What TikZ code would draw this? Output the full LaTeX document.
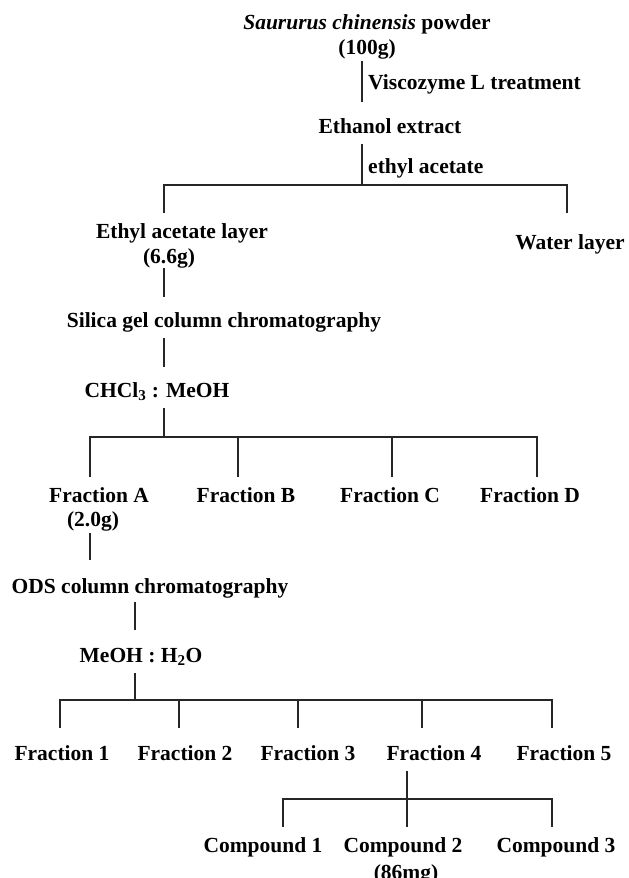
\documentclass[tikz,border=0pt]{standalone}
\usepackage{fontspec}
\setmainfont{Liberation Serif}
\begin{document}
\begin{tikzpicture}[x=1pt,y=-1pt,
  txt/.style={inner sep=0pt, anchor=base, font=\bfseries\fontsize{21.5}{24}\selectfont},
  ltxt/.style={txt, anchor=base west},
  conn/.style={line width=1.2pt, draw=black!85}]
\clip (0,0) rectangle (629,878);
\fill[white] (0,0) rectangle (629,878);
% texts
\node[txt] (pow) at (367,29) {\textit{Saururus chinensis} powder};
\node[txt] (pow2) at (367,54) {(100g)};
\node[ltxt] (visc) at (368,89) {Viscozyme L treatment};
\node[txt] (eth) at (390,133) {Ethanol extract};
\node[ltxt] (ea) at (368,173) {ethyl acetate};
\node[txt] (eal) at (182,238) {Ethyl acetate layer};
\node[txt] (eal2) at (169,263) {(6.6g)};
\node[txt] (wat) at (570,249) {Water layer};
\node[txt] (sil) at (224,327) {Silica gel column chromatography};
\node[txt] (chc) at (157,397) {CHCl\textsubscript{3} : MeOH};
\node[txt] (fA) at (99,502) {Fraction A};
\node[txt] (fA2) at (93,526) {(2.0g)};
\node[txt] (fB) at (246,502) {Fraction B};
\node[txt] (fC) at (390,502) {Fraction C};
\node[txt] (fD) at (530,502) {Fraction D};
\node[txt] (ods) at (150,593) {ODS column chromatography};
\node[txt] (meo) at (141,662) {MeOH : H\textsubscript{2}O};
\node[txt] (f1) at (62,760) {Fraction 1};
\node[txt] (f2) at (185,760) {Fraction 2};
\node[txt] (f3) at (308,760) {Fraction 3};
\node[txt] (f4) at (434,760) {Fraction 4};
\node[txt] (f5) at (564,760) {Fraction 5};
\node[txt] (c1) at (263,852) {Compound 1};
\node[txt] (c2) at (403,852) {Compound 2};
\node[txt] (c22) at (406,879) {(86mg)};
\node[txt] (c3) at (556,852) {Compound 3};
% junction coordinates
\coordinate (a1) at (362,61);  \coordinate (a2) at (362,102);
\coordinate (b1) at (362,144); \coordinate (b2) at (362,185);
\coordinate (bl) at (164,185); \coordinate (br) at (567,185);
\coordinate (bld) at (164,213); \coordinate (brd) at (567,213);
\coordinate (c1a) at (164,268); \coordinate (c1b) at (164,297);
\coordinate (d1a) at (164,338); \coordinate (d1b) at (164,367);
\coordinate (e1a) at (164,408); \coordinate (e1b) at (164,437);
\coordinate (eL) at (90,437); \coordinate (eR) at (537,437);
\coordinate (eAd) at (90,477); \coordinate (eB) at (238,437); \coordinate (eBd) at (238,477);
\coordinate (eC) at (392,437); \coordinate (eCd) at (392,477); \coordinate (eDd) at (537,477);
\coordinate (g1) at (90,533); \coordinate (g2) at (90,560);
\coordinate (h1) at (135,602); \coordinate (h2) at (135,630);
\coordinate (i1) at (135,673); \coordinate (i2) at (135,700);
\coordinate (iL) at (60,700); \coordinate (iR) at (552,700);
\coordinate (i1d) at (60,728);
\coordinate (i2u) at (179,700); \coordinate (i2d) at (179,728);
\coordinate (i3u) at (298,700); \coordinate (i3d) at (298,728);
\coordinate (i4u) at (422,700); \coordinate (i4d) at (422,728);
\coordinate (i5d) at (552,728);
\coordinate (j1) at (407,771); \coordinate (j2) at (407,799); \coordinate (j3) at (407,827);
\coordinate (jL) at (283,799); \coordinate (jR) at (552,799);
\coordinate (jLd) at (283,827); \coordinate (jRd) at (552,827);
% connectors
\draw[conn] (a1) -- (a2);
\draw[conn] (b1) -- (b2);
\draw[conn] (bld) -- (bl) -- (br) -- (brd);
\draw[conn] (c1a) -- (c1b);
\draw[conn] (d1a) -- (d1b);
\draw[conn] (e1a) -- (e1b);
\draw[conn] (eAd) -- (eL) -- (eR) -- (eDd);
\draw[conn] (eB) -- (eBd);
\draw[conn] (eC) -- (eCd);
\draw[conn] (g1) -- (g2);
\draw[conn] (h1) -- (h2);
\draw[conn] (i1) -- (i2);
\draw[conn] (i1d) -- (iL) -- (iR) -- (i5d);
\draw[conn] (i2u) -- (i2d);
\draw[conn] (i3u) -- (i3d);
\draw[conn] (i4u) -- (i4d);
\draw[conn] (j1) -- (j3);
\draw[conn] (jLd) -- (jL) -- (jR) -- (jRd);
\end{tikzpicture}
\end{document}
